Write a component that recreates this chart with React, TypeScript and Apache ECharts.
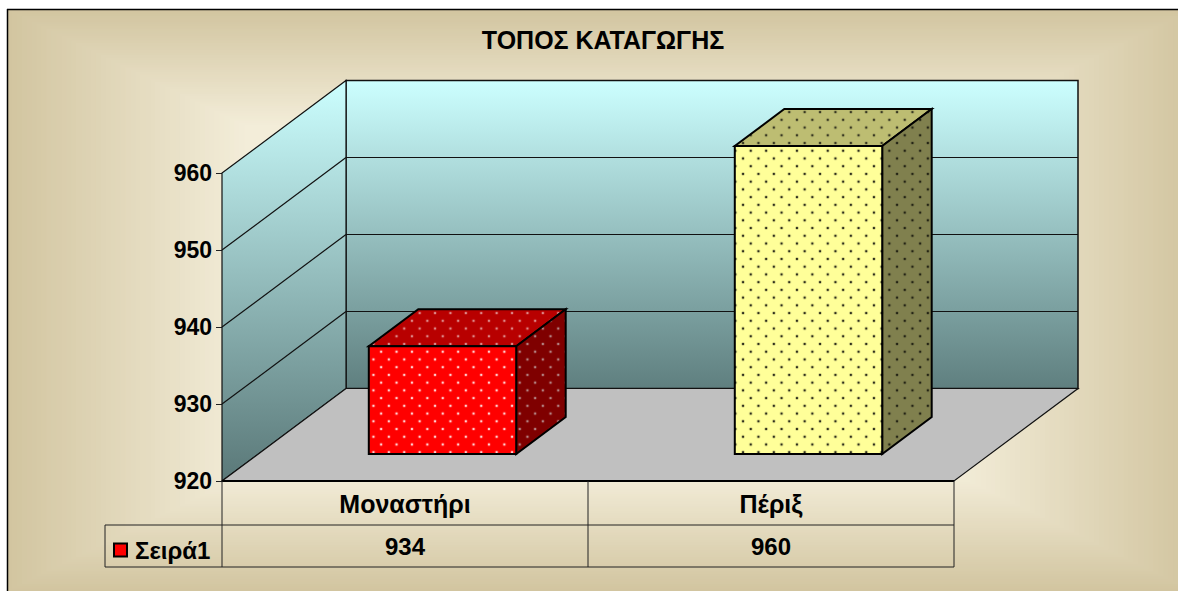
import React, { useEffect, useRef } from "react";
import * as echarts from "echarts";

const title = "ΤΟΠΟΣ ΚΑΤΑΓΩΓΗΣ";
const categories = ["Μοναστήρι", "Πέριξ"];
const seriesName = "Σειρά1";
const values = [934, 960];
const yTicks = [920, 930, 940, 950, 960];

const FONT = '"Liberation Sans", Arial, sans-serif';
const DEPTH = { x: 124, y: -92.5 };
const BAR = { shift: 37.5, half: 73.7, rise: 27, dx: 49.5, dy: -37 };
const TILE = { w: 15.4, h: 15.46 };

const FACES = [
  {
    front: { fill: "#FF0000", dot: "#FFFFFF", at: [379, 356.3] },
    top: { fill: "#B80000", dot: "#E6A6A6", at: [424.7, 311] },
    side: { fill: "#7F0000", dot: "#BFA0A0", at: [525, 348.7] },
  },
  {
    front: { fill: "#FFFF99", dot: "#000000", at: [741.3, 149] },
    top: { fill: "#BDBD72", dot: "#1A1A10", at: [793.7, 110] },
    side: { fill: "#80804E", dot: "#0F0F08", at: [894, 149] },
  },
];

function pattern(f: { fill: string; dot: string; at: number[] }) {
  const a = TILE.w / 4, b = TILE.h / 4;
  const c = (x: number, y: number) =>
    `<circle cx="${x}" cy="${y}" r="1.7" fill="${f.dot}" fill-opacity="0.28"/><circle cx="${x}" cy="${y}" r="0.95" fill="${f.dot}"/>`;
  const svg =
    `<svg xmlns="http://www.w3.org/2000/svg" width="${TILE.w}" height="${TILE.h}" viewBox="0 0 ${TILE.w} ${TILE.h}">` +
    `<rect width="${TILE.w}" height="${TILE.h}" fill="${f.fill}"/>` + c(a, b) + c(3 * a, 3 * b) + `</svg>`;
  return {
    image: "data:image/svg+xml;charset=utf-8," + encodeURIComponent(svg),
    repeat: "repeat",
    imageWidth: TILE.w,
    imageHeight: TILE.h,
    x: f.at[0] - a,
    y: f.at[1] - b,
  };
}

function lerpColor(t: number) {
  const light = [243, 237, 217], dark = [210, 197, 160];
  const ch = light.map((l, i) => Math.round(l + (dark[i] - l) * t));
  return `rgb(${ch[0]},${ch[1]},${ch[2]})`;
}

function backgroundElements() {
  const L = 7.5, T = 9.5, cx = 600, cy = 300, hw = 593, hh = 291;
  const els: any[] = [];
  const steps = 48, plateau = 0.6;
  for (let i = 0; i <= steps; i++) {
    const t = 1 - i / steps;
    const k = plateau + (1 - plateau) * t;
    const x = cx - hw * k, y = cy - hh * k;
    els.push({
      type: "rect",
      silent: true,
      z: -20 + i * 0.01,
      shape: { x: Math.max(x, L), y: Math.max(y, T), width: cx + hw * k - Math.max(x, L), height: cy + hh * k - Math.max(y, T) },
      style: { fill: lerpColor(t) },
    });
  }
  els.push({ type: "line", silent: true, z: -10, shape: { x1: 7.5, y1: 9, x2: 7.5, y2: 591 }, style: { stroke: "#000", lineWidth: 1.5 } });
  els.push({ type: "line", silent: true, z: -10, shape: { x1: 7, y1: 9.5, x2: 1178, y2: 9.5 }, style: { stroke: "#000", lineWidth: 1.5 } });
  return els;
}

const line = (x1: number, y1: number, x2: number, y2: number, w = 1, stroke = "#111") => ({
  type: "line",
  shape: { x1, y1, x2, y2 },
  style: { stroke, lineWidth: w, fill: "none" },
});

function renderFrame(params: any, api: any) {
  const cs = params.coordSys;
  const X0 = cs.x, X1 = cs.x + cs.width;
  const yBase = api.coord([0, yTicks[0]])[1];
  const yTop = api.coord([0, yTicks[yTicks.length - 1]])[1];
  const bx = X0 + DEPTH.x, bx1 = X1 + DEPTH.x;
  const wallFill = {
    type: "linear", x: 0, y: 0, x2: 0, y2: 1,
    colorStops: [{ offset: 0, color: "#CCFFFF" }, { offset: 1, color: "#5A7878" }],
  };
  const backFill = {
    type: "linear", x: 0, y: 0, x2: 0, y2: 1,
    colorStops: [{ offset: 0, color: "#CCFFFF" }, { offset: 1, color: "#5F7F7F" }],
  };
  const children: any[] = [
    { type: "rect", shape: { x: bx, y: yTop + DEPTH.y, width: X1 - X0, height: yBase - yTop }, style: { fill: backFill, stroke: "#111", lineWidth: 1.5 } },
    {
      type: "polygon",
      shape: { points: [[X0, yTop], [bx, yTop + DEPTH.y], [bx, yBase + DEPTH.y], [X0, yBase]] },
      style: { fill: wallFill, stroke: "#111", lineWidth: 1.2 },
    },
    {
      type: "polygon",
      shape: { points: [[X0, yBase], [X1, yBase], [bx1, yBase + DEPTH.y], [bx, yBase + DEPTH.y]] },
      style: { fill: "#C0C0C0", stroke: "#111", lineWidth: 1.2 },
    },
  ];
  yTicks.slice(1, -1).forEach((v) => {
    const y = api.coord([0, v])[1];
    children.push(line(X0, y, bx, y + DEPTH.y, 1.2));
    children.push(line(bx, y + DEPTH.y, bx1, y + DEPTH.y));
  });
  const tableL = 105, row1 = yBase + 44, row2 = yBase + 86, mid = (X0 + X1) / 2;
  children.push(line(X0, yBase, X1, yBase, 2, "#000"));
  children.push(line(X0, yBase, X0, row2, 1, "#222"));
  children.push(line(mid, yBase, mid, row2, 1, "#222"));
  children.push(line(X1, yBase, X1, row2, 1, "#222"));
  children.push(line(tableL, row1, X1, row1, 1, "#222"));
  children.push(line(tableL, row2, X1, row2, 1, "#222"));
  children.push(line(tableL, row1, tableL, row2, 1, "#222"));
  return { type: "group", children };
}

function renderBar(params: any, api: any) {
  const i = api.value(0), v = api.value(1);
  const base = api.coord([i, yTicks[0]]);
  const top = api.coord([i, v]);
  const x0 = base[0] + BAR.shift - BAR.half, x1 = base[0] + BAR.shift + BAR.half;
  const yb = base[1] - BAR.rise, yt = top[1] - BAR.rise;
  const f = FACES[i];
  const edge = { stroke: "#000", lineWidth: 2, lineJoin: "miter" };
  return {
    type: "group",
    children: [
      { type: "polygon", shape: { points: [[x0, yt], [x1, yt], [x1 + BAR.dx, yt + BAR.dy], [x0 + BAR.dx, yt + BAR.dy]] }, style: { fill: pattern(f.top), ...edge } },
      { type: "polygon", shape: { points: [[x1, yt], [x1 + BAR.dx, yt + BAR.dy], [x1 + BAR.dx, yb + BAR.dy], [x1, yb]] }, style: { fill: pattern(f.side), ...edge } },
      { type: "rect", shape: { x: x0, y: yt, width: x1 - x0, height: yb - yt }, style: { fill: pattern(f.front), ...edge } },
      {
        type: "text",
        x: base[0],
        y: base[1] + 65,
        style: { text: String(v), fill: "#000", font: `bold 24px ${FONT}`, align: "center", verticalAlign: "middle" },
      },
    ],
  };
}

export default function App() {
  const ref = useRef<HTMLDivElement>(null);
  useEffect(() => {
    document.body.style.margin = "0";
    const chart = echarts.init(ref.current!, undefined, { renderer: "svg" });
    chart.setOption({
      animation: false,
      backgroundColor: "#FFFFFF",
      title: {
        text: title,
        left: 598,
        top: 22,
        textAlign: "center",
        textStyle: { fontFamily: FONT, fontWeight: "bold", fontSize: 25, color: "#000" },
      },
      legend: {
        data: [{ name: seriesName, icon: "rect", itemStyle: { color: "#FF0000", borderColor: "#000", borderWidth: 2 } }],
        left: 108,
        top: 533,
        itemWidth: 13,
        itemHeight: 13,
        selectedMode: false,
        textStyle: { fontFamily: FONT, fontWeight: "bold", fontSize: 24, color: "#000", padding: [0, 0, 0, 3] },
      },
      grid: { left: 222, top: 173, width: 732, height: 308 },
      xAxis: {
        type: "category",
        data: categories,
        axisLine: { show: false },
        axisTick: { show: false },
        axisLabel: { margin: 10, fontFamily: FONT, fontWeight: "bold", fontSize: 25, color: "#000" },
      },
      yAxis: {
        type: "value",
        min: 920,
        max: 960,
        interval: 10,
        splitLine: { show: false },
        axisLine: { show: true, lineStyle: { color: "#222", width: 1 } },
        axisTick: { show: true, length: 6, lineStyle: { color: "#222" } },
        axisLabel: { margin: 10, fontFamily: FONT, fontWeight: "bold", fontSize: 23, color: "#000", padding: [2, 0, 0, 0] },
      },
      graphic: backgroundElements(),
      series: [
        { type: "custom", name: "frame", z: 1, silent: true, clip: false, renderItem: renderFrame, data: [[0, yTicks[0]]], encode: { x: 0, y: 1 } },
        {
          type: "custom",
          name: seriesName,
          z: 3,
          silent: true,
          clip: false,
          itemStyle: { color: "#FF0000" },
          renderItem: renderBar,
          data: values.map((v, i) => [i, v]),
          encode: { x: 0, y: 1 },
        },
      ],
    });
    return () => chart.dispose();
  }, []);
  return <div ref={ref} style={{ width: 1178, height: 591 }} />;
}
